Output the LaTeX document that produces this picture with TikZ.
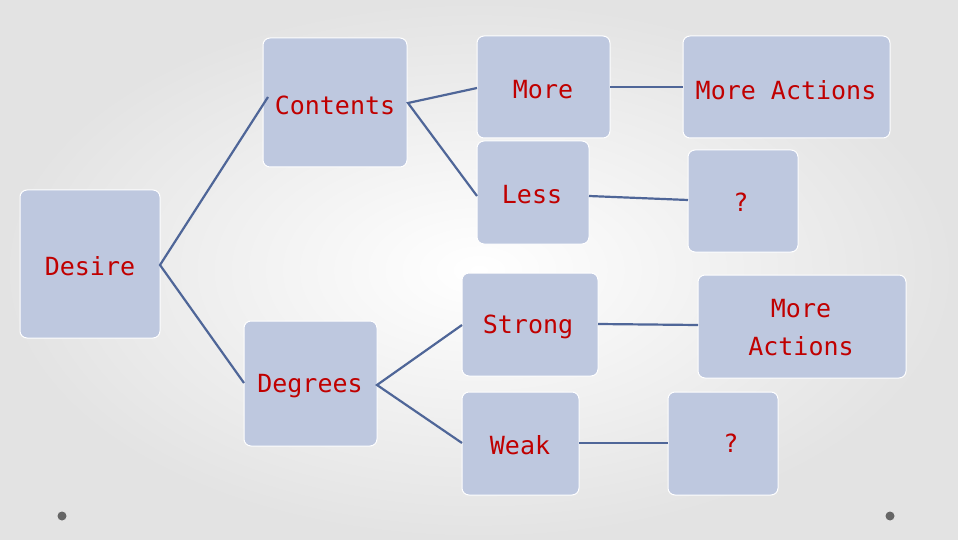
\documentclass[tikz,border=0pt]{standalone}
\usepackage{fontspec}
\setmonofont{DejaVu Sans Mono}
\definecolor{boxc}{HTML}{BEC8DF}
\definecolor{linec}{HTML}{4F6698}
\definecolor{txt}{HTML}{C00000}
\begin{document}
\begin{tikzpicture}[x=1pt,y=-1pt,
  bx/.style={draw=white,line width=1pt,fill=boxc,rounded corners=7pt},
  lb/.style={text=txt,font=\ttfamily\fontsize{25}{38}\selectfont,align=center},
  cn/.style={draw=linec,line width=2.2pt}]
\shade[inner color=white,outer color=gray!22] (0,0) rectangle (958,540);
\useasboundingbox (0,0) rectangle (958,540);
\filldraw[bx] (20,190) rectangle (160,338);
\filldraw[bx] (263,38) rectangle (407,167);
\filldraw[bx] (244,321) rectangle (377,446);
\filldraw[bx] (477,36) rectangle (610,138);
\filldraw[bx] (477,141) rectangle (589,244);
\filldraw[bx] (462,273) rectangle (598,376);
\filldraw[bx] (462,392) rectangle (579,495);
\filldraw[bx] (683,36) rectangle (890,138);
\filldraw[bx] (688,150) rectangle (798,252);
\filldraw[bx] (698,275) rectangle (906,378);
\filldraw[bx] (668,392) rectangle (778,495);
\node[lb] (desire) at (90,266) {Desire};
\node[lb] (contents) at (335,105) {Contents};
\node[lb] (degrees) at (310,386) {Degrees};
\node[lb] (more) at (543,90) {More};
\node[lb] (less) at (532,195) {Less};
\node[lb] (strong) at (528,327) {Strong};
\node[lb] (weak) at (520,445) {Weak};
\node[lb] (ma1) at (786,90) {More Actions};
\node[lb] (q1) at (741,202) {?};
\node[lb] (ma2) at (801,328) {More\\Actions};
\node[lb] (q2) at (731,443) {?};
\coordinate (d) at (160,265);
\coordinate (ca) at (268,97); \coordinate (cb) at (408,103);
\coordinate (ga) at (244,383); \coordinate (gb) at (377,385);
\draw[cn] (ca) -- (d) -- (ga);
\draw[cn] (477,88) -- (cb) -- (477,196);
\draw[cn] (462,325) -- (gb) -- (462,443);
\draw[cn] (610,87) -- (683,87);
\draw[cn] (589,196) -- (688,200);
\draw[cn] (598,324) -- (698,325);
\draw[cn] (579,443) -- (668,443);
\fill[gray!80!black] (62,516) circle (4.5);
\fill[gray!80!black] (890,516) circle (4.5);
\end{tikzpicture}
\end{document}
